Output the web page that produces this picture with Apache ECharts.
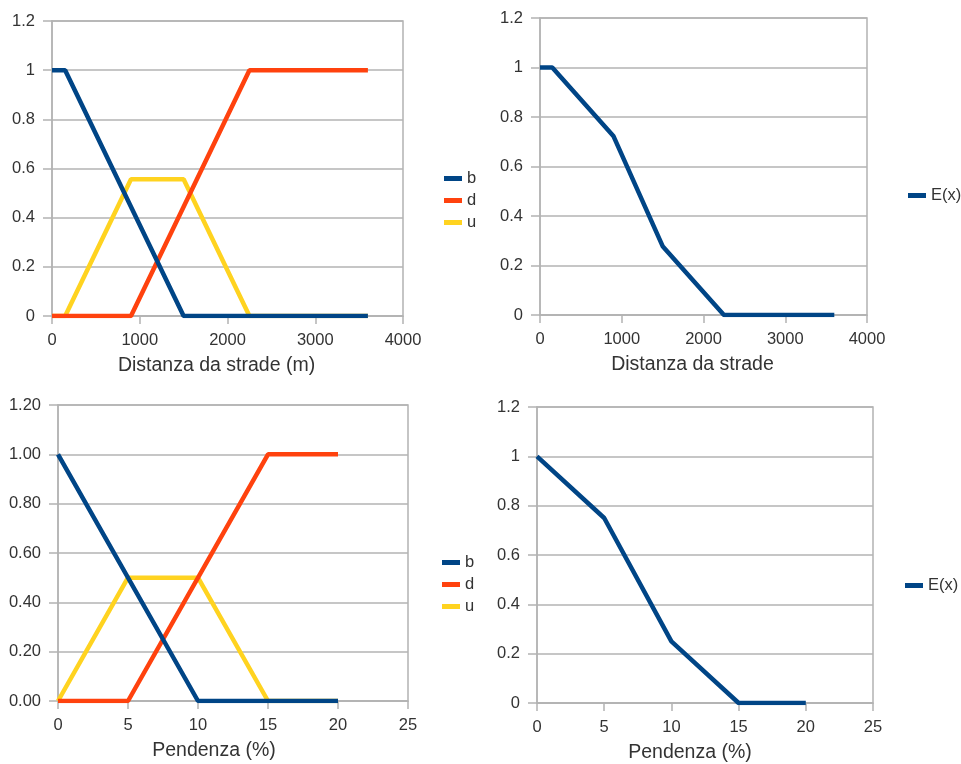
<!DOCTYPE html>
<html>
<head>
<meta charset="utf-8">
<script src="https://cdn.jsdelivr.net/npm/echarts@6/dist/echarts.min.js"></script>
<style>
html,body{margin:0;padding:0;background:#fff;}
#c{width:961px;height:764px;}
</style>
</head>
<body>
<div id="c"></div>
<script>
// Chart 1: Distanza da strade (m) - membership functions
var dist_b = [[0,1],[150,1],[1500,0],[3600,0]];
var dist_d = [[0,0],[900,0],[2250,1],[3600,1]];
var dist_u = [[0,0],[150,0],[900,0.556],[1500,0.556],[2250,0],[3600,0]];
// Chart 2: Distanza da strade - E(x)
var dist_E = [[0,1],[150,1],[900,0.722],[1500,0.278],[2250,0],[3600,0]];
// Chart 3: Pendenza (%) - membership functions
var pend_b = [[0,1],[10,0],[20,0]];
var pend_d = [[0,0],[5,0],[15,1],[20,1]];
var pend_u = [[0,0],[5,0.5],[10,0.5],[15,0],[20,0]];
// Chart 4: Pendenza (%) - E(x)
var pend_E = [[0,1],[5,0.75],[10,0.25],[15,0],[20,0]];

var titles = ['Distanza da strade (m)','Distanza da strade','Pendenza (%)','Pendenza (%)'];
var xMax = [4000,4000,25,25];
var xStep = [1000,1000,5,5];

var BLUE='#004586', RED='#ff420e', YEL='#ffd320';
var GRIDC='#b3b3b3', TXT='#333333';
var FONT='"Liberation Sans", Arial, sans-serif';

var grids = [
  {left:52, top:21, width:351, height:295},
  {left:540, top:18, width:327, height:297},
  {left:58, top:405, width:350, height:296},
  {left:537, top:407, width:336, height:298}
];
var namePad = [22,22,38,30];

var xAxes = grids.map(function(g,i){
  return {
    type:'value', gridIndex:i, min:0, max:xMax[i], interval:xStep[i],
    name:titles[i], nameLocation:'middle', nameGap:40,
    nameTextStyle:{fontFamily:FONT,fontSize:19.5,color:TXT,padding:[0,namePad[i],0,0]},
    axisLine:{show:true,lineStyle:{color:GRIDC,width:1.5}},
    axisTick:{show:true,length:8,lineStyle:{color:GRIDC,width:1.5}},
    axisLabel:{fontFamily:FONT,fontSize:16.5,color:TXT,margin:16,
      formatter:function(v){return String(v);}},
    splitLine:{show:false}
  };
});
var yAxes = grids.map(function(g,i){
  return {
    type:'value', gridIndex:i, min:0, max:1.2, interval:0.2,
    axisLine:{show:true,lineStyle:{color:GRIDC,width:1.5}},
    axisTick:{show:true,length:9,lineStyle:{color:GRIDC,width:1.5}},
    axisLabel:{fontFamily:FONT,fontSize:16.5,color:TXT,margin:17,
      formatter: i===2 ? function(v){return v.toFixed(2);} : function(v){return String(+v.toFixed(1));}},
    splitLine:{show:true,lineStyle:{color:GRIDC,width:1.5}}
  };
});

function line(name,data,color,idx){
  return {type:'line',name:name,data:data,xAxisIndex:idx,yAxisIndex:idx,
    symbol:'none',lineStyle:{color:color,width:4.5},itemStyle:{color:color},
    animation:false};
}

var legendBase = {orient:'vertical',icon:'rect',itemWidth:18,itemHeight:5,itemGap:4,
  textStyle:{fontFamily:FONT,fontSize:16.5,color:TXT,lineHeight:16}};

var option = {
  backgroundColor:'#fff',
  animation:false,
  grid: grids.map(function(g){return Object.assign({show:true,borderColor:GRIDC,borderWidth:1.5,backgroundColor:'transparent',containLabel:false},g);}),
  xAxis:xAxes,
  yAxis:yAxes,
  legend:[
    Object.assign({},legendBase,{left:439,top:165,itemGap:5,data:['b','d','u']}),
    Object.assign({},legendBase,{left:903,top:182,data:['E(x)']}),
    Object.assign({},legendBase,{left:437,top:549,itemGap:5,data:['b','d','u']}),
    Object.assign({},legendBase,{left:900,top:572,data:['E(x)']})
  ],
  series:[
    line('u',dist_u,YEL,0),
    line('d',dist_d,RED,0),
    line('b',dist_b,BLUE,0),
    line('E(x)',dist_E,BLUE,1),
    line('u',pend_u,YEL,2),
    line('d',pend_d,RED,2),
    line('b',pend_b,BLUE,2),
    line('E(x)',pend_E,BLUE,3)
  ]
};
var chart = echarts.init(document.getElementById('c'),null,{renderer:'canvas'});
chart.setOption(option);
</script>
</body>
</html>
